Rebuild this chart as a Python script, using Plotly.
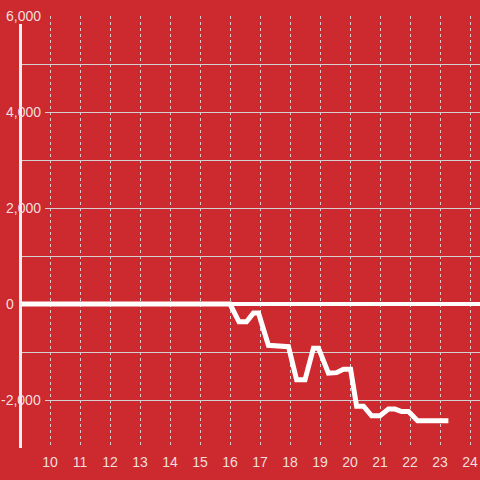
import plotly.graph_objects as go

# ---- data ----
day = [9.0, 16.0, 16.3, 16.55, 16.78, 16.95, 17.28, 17.6, 17.95, 18.22, 18.5,
       18.78, 18.95, 19.28, 19.55, 19.78, 20.02, 20.22, 20.45, 20.72, 21.0,
       21.28, 21.5, 21.72, 21.95, 22.25, 23.28]
value = [0, 0, -370, -370, -190, -190, -860, -880, -890, -1580, -1580,
         -920, -920, -1440, -1430, -1360, -1360, -2130, -2130, -2330, -2330,
         -2190, -2190, -2240, -2240, -2430, -2430]
x_ticks = list(range(10, 25))
y_ticks = [-2000, 0, 2000, 4000, 6000]
y_tick_labels = ["-2,000", "0", "2,000", "4,000", "6,000"]

BG = "#cc2a2f"
GRID = "#d4d0d0"
TXT = "#f3dede"
FONT = "Liberation Sans"
W, H = 480, 480
L, R, T, B = 21, 0, 16, 32
PW = W - L - R


def px(xp):
    # figure x pixel -> paper coordinate
    return (xp - L) / PW


fig = go.Figure()
fig.add_trace(go.Scatter(x=day, y=value, mode="lines",
                         line=dict(color="white", width=5), hoverinfo="skip"))

shapes = []
annotations = []
for v, t in zip(y_ticks, y_tick_labels):
    if v != 0:
        shapes.append(dict(type="rect", xref="paper", yref="y", layer="above",
                           x0=px(0), x1=px(45), y0=v - 190, y1=v + 190,
                           fillcolor=BG, line=dict(width=0)))
    right_edge = 43 if v != 0 else 16
    annotations.append(dict(text=t, xref="paper", yref="y", x=px(right_edge), y=v,
                            xanchor="right", yanchor="middle", showarrow=False,
                            font=dict(size=14, color=TXT, family=FONT)))
shapes.append(dict(type="line", xref="paper", yref="paper", layer="above",
                   x0=px(20.5), x1=px(20.5), y0=0, y1=(448 - 24) / 432,
                   line=dict(color="#f4eeee", width=3)))

fig.update_layout(
    width=W, height=H,
    margin=dict(l=L, r=R, t=T, b=B, pad=0),
    paper_bgcolor=BG, plot_bgcolor=BG,
    showlegend=False,
    shapes=shapes, annotations=annotations,
    font=dict(family=FONT, size=14, color=TXT),
)
fig.update_xaxes(range=[9.033, 24.333], tickmode="array", tickvals=x_ticks,
                 showgrid=True, gridcolor=GRID, griddash="dot", gridwidth=1,
                 zeroline=False, showline=False, ticks="",
                 ticklabelstandoff=4,
                 tickfont=dict(size=14, color=TXT, family=FONT))
fig.update_yaxes(range=[-3000, 6000], dtick=1000, tick0=0,
                 showgrid=True, gridcolor=GRID, gridwidth=1,
                 zeroline=True, zerolinecolor="white", zerolinewidth=4,
                 showticklabels=False, showline=False, ticks="")

fig.write_html(
    "out.html",
    config={"displayModeBar": False},
    post_script=("document.body.style.margin='0px';"
                 "document.body.style.overflow='hidden';"
                 "document.body.style.background='%s';" % BG),
)
